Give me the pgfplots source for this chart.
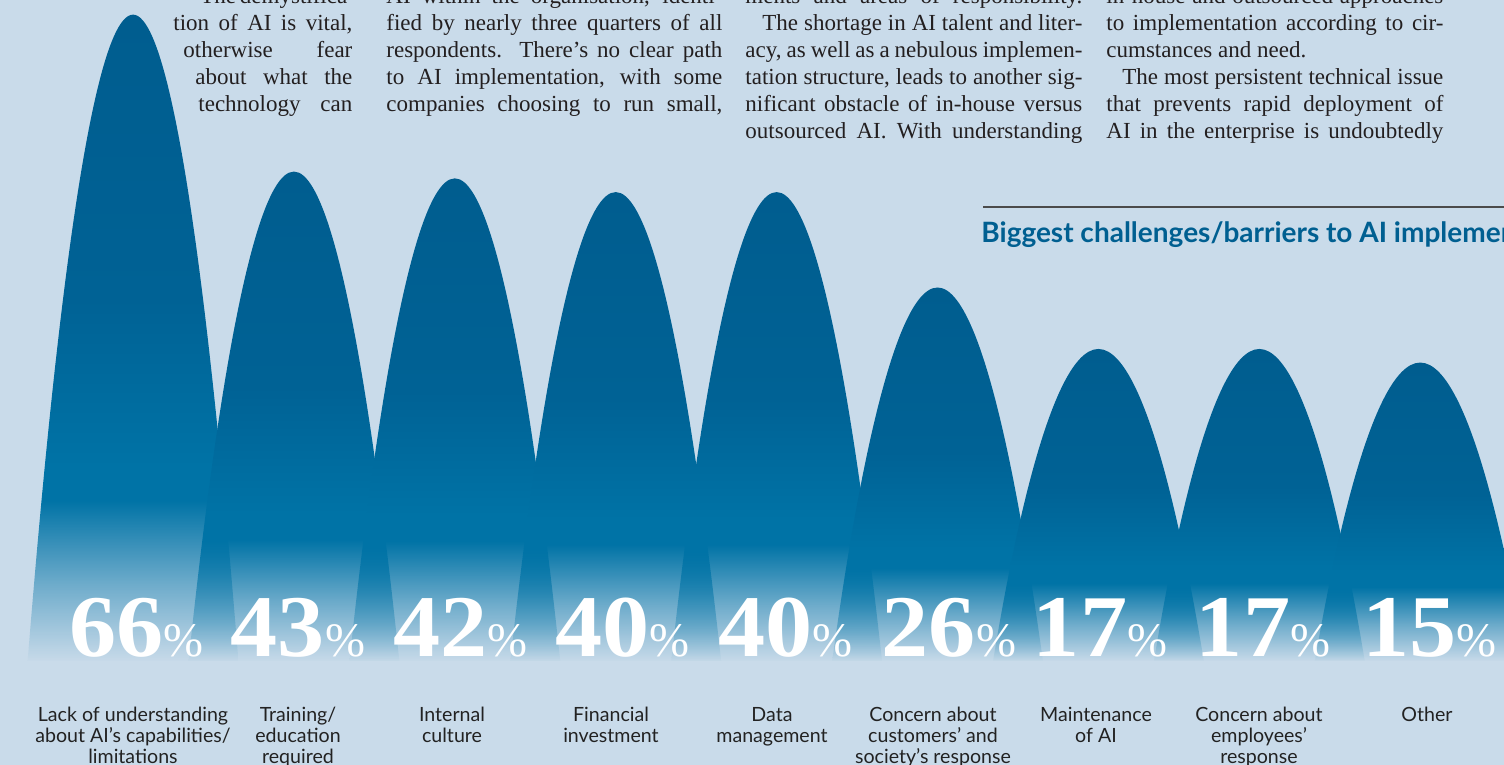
\documentclass[border=0pt]{standalone}
\usepackage{fontspec}
\usepackage{graphicx}
\usepackage{pgfplots}
\pgfplotsset{compat=1.18}
\usepackage{pgfplotstable}
\usetikzlibrary{fadings}
\setmainfont{Liberation Serif}
\newfontfamily\labelfamily{Lato}

\definecolor{bg}{RGB}{201,219,234}
\definecolor{pktop}{RGB}{0,93,143}
\definecolor{pkup}{RGB}{0,98,149}
\definecolor{pkmid}{RGB}{0,115,166}
\definecolor{bodytext}{RGB}{35,31,32}
\definecolor{labeltext}{RGB}{34,34,34}
\definecolor{titleblue}{RGB}{0,95,145}
\definecolor{rulegray}{RGB}{75,75,75}

\pgfdeclareverticalshading{peakshade}{100bp}{color(0bp)=(pkmid); color(25bp)=(pkmid); color(40bp)=(pkmid); color(53bp)=(pkup); color(75bp)=(pktop); color(100bp)=(pktop)}

% the path's bounding box corresponds to the inner square (-25bp..25bp)
\begin{tikzfadingfrompicture}[name=peakfade]
  \fill[transparent!0] (-50bp,-12.5bp) rectangle (50bp,50bp);
  \shade[top color=transparent!0, bottom color=transparent!55] (-50bp,-19bp) rectangle (50bp,-12.5bp);
  \shade[top color=transparent!55, bottom color=transparent!100] (-50bp,-25bp) rectangle (50bp,-19bp);
  \fill[transparent!100] (-50bp,-50bp) rectangle (50bp,-25bp);
\end{tikzfadingfrompicture}

% idx: category position, v: share of respondents (%), lx/ly: label anchor
\pgfplotstableread{
idx v lx ly
0 66 0.022 -28
1 43 1.025 -28
2 42 2.035 -28
3 40 3.042 -28
4 40 4.055 -28
5 26 5.071 -28
6 17 6.010 -28
7 17 7.023 -28
8 15 8.058 -28
}\peaks

\newcommand\bodyf{\fontsize{11.5}{13.5}\selectfont}
\newcommand\labelf{\labelfamily\fontsize{9.8}{10.5}\selectfont}
\newcommand\titlef{\labelfamily\bfseries\fontsize{14}{16}\selectfont}
\newcommand\jline[4]{\node[anchor=base west, inner sep=0pt, font=\bodyf, text=bodytext] at (#1,#2) {\makebox[#3pt][s]{#4}};}
\newcommand\lline[4]{\node[anchor=base west, inner sep=0pt, font=\bodyf, text=bodytext] at (#1,#2) {\makebox[#3pt][l]{#4}};}

\begin{document}
\begin{tikzpicture}
\useasboundingbox (0,0) rectangle (752pt,382.5pt);
\clip (0,0) rectangle (752pt,382.5pt);
\fill[bg] (0,0) rectangle (752pt,382.5pt);
\begin{axis}[
  at={(0,0)}, anchor=south west,
  scale only axis, width=752pt, height=382.5pt,
  xmin=-0.8266, xmax=8.5208, ymin=-43.95, ymax=68.12,
  hide axis, clip=false,
]
\pgfplotsinvokeforeach{0,...,8}{%
  \pgfplotstablegetelem{#1}{v}\of\peaks
  \let\pv=\pgfplotsretval
  \pgfmathsetmacro\xl{#1-0.655}%
  \pgfmathsetmacro\xr{#1+0.655}%
  \edef\temp{\noexpand\path[shade, shading=peakshade, path fading=peakfade]
     (axis cs:\xl,-28.7) parabola bend (axis cs:#1,\pv) (axis cs:\xr,-28.7) -- cycle;}%
  \temp
}
\addplot[draw=none, mark=none, point meta=explicit symbolic,
  nodes near coords={\scalebox{1.07}[1]{\pgfplotspointmeta}{\mdseries\fontsize{24}{24}\selectfont\%}},
  nodes near coords align={anchor=base},
  every node near coord/.append style={text=white, inner sep=0pt, anchor=base,
    font=\bfseries\fontsize{44}{44}\selectfont},
] table[x=lx, y=ly, meta=v] {\peaks};
\end{axis}

\begin{scope}[x=0.5pt, y=-0.5pt, shift={(0pt,382.5pt)}]
% column 1 (wrapping round the first peak)
\jline{184}{4}{84}{\hspace*{8pt}The demystifica-}
\jline{173}{31}{89.5}{tion of AI is vital,}
\jline{183}{58}{84.5}{otherwise fear}
\jline{195}{85}{78.5}{about what the}
\jline{198}{112}{77}{technology can}
% column 2
\jline{386}{4}{168}{AI within the organisation, identi-}
\jline{386}{31}{168}{fied by nearly three quarters of all}
\jline{386}{58}{168}{respondents. There’s no clear path}
\jline{386}{85}{168}{to AI implementation, with some}
\jline{386}{112}{168}{companies choosing to run small,}
% column 3
\jline{745}{4}{168.5}{ments and areas of responsibility.}
\jline{762}{31}{160}{The shortage in AI talent and liter-}
\jline{745}{58}{168.5}{acy, as well as a nebulous implemen-}
\jline{745}{85}{168.5}{tation structure, leads to another sig-}
\jline{745}{112}{168.5}{nificant obstacle of in-house versus}
\jline{745}{139}{168.5}{outsourced AI. With understanding}
% column 4
\jline{1106}{4}{168.5}{in-house and outsourced approaches}
\jline{1106}{31}{168.5}{to implementation according to cir-}
\lline{1106}{58}{168.5}{cumstances and need.}
\jline{1122}{85}{160.5}{The most persistent technical issue}
\jline{1106}{112}{168.5}{that prevents rapid deployment of}
\jline{1106}{139}{168.5}{AI in the enterprise is undoubtedly}

% title
\draw[rulegray, line width=0.75pt] (983,207) -- (1520,207);
\node[anchor=base west, inner sep=0pt, font=\titlef, text=titleblue] at (981,243) {Biggest challenges/barriers to AI implementation};

% category labels
\tikzset{cat/.style={anchor=north, align=center, inner sep=0pt, font=\labelf, text=labeltext}}
\node[cat] at (133,707) {Lack of understanding\\about AI’s capabilities/\\limitations};
\node[cat] at (298,707) {Training/\\education\\required};
\node[cat] at (452,707) {Internal\\culture};
\node[cat] at (611,707) {Financial\\investment};
\node[cat] at (772,707) {Data\\management};
\node[cat] at (933,707) {Concern about\\customers’ and\\society’s response};
\node[cat] at (1096,707) {Maintenance\\of AI};
\node[cat] at (1259,707) {Concern about\\employees’\\response};
\node[cat] at (1427,707) {Other};
\end{scope}
\end{tikzpicture}
\end{document}
